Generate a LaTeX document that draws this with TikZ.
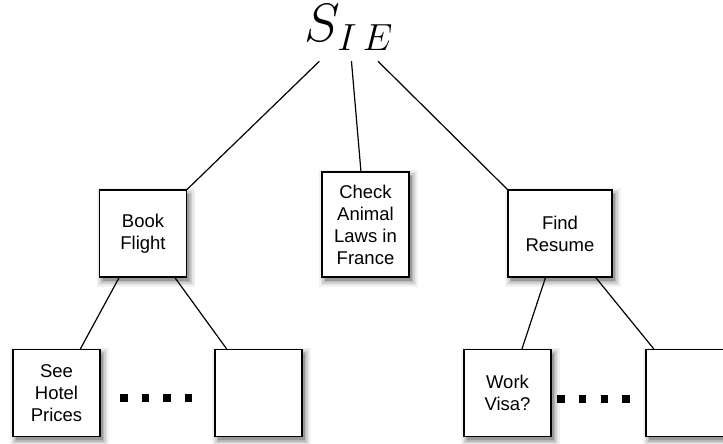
\RequirePackage{fix-cm}
\documentclass[tikz,border=0pt]{standalone}
\usepackage{amsmath}
\usepackage{fontspec}
\setsansfont{Liberation Sans}
\usepackage{tikz}
\usetikzlibrary{positioning,backgrounds}

\begin{document}
\begin{tikzpicture}[
    x=1pt, y=1pt,
    on grid,
    box/.style={rectangle, draw, fill=white, line width=1.2pt, minimum width=87pt, minimum height=87pt, inner sep=0pt, align=center, font=\sffamily\fontsize{18.5}{22}\selectfont},
    widebox/.style={box, minimum width=104pt},
    tallbox/.style={box, minimum height=105pt},
    rootnode/.style={inner sep=0pt, minimum width=90pt, text height=38pt, text depth=19pt, font=\fontsize{54}{60}\selectfont},
    dotsq/.style={rectangle, fill=black, minimum size=7.5pt, inner sep=0pt},
    link/.style={line width=1.2pt}
]
\useasboundingbox (0,0) rectangle (723,-444);

% Root
\node[rootnode] (root) at (349,-32.5) {$S_{I\mkern3mu E}$};

% Tasks
\node[box, below left=201pt and 206pt of root] (book) {Book\\Flight};
\node[tallbox, below right=192pt and 16.5pt of root] (check) {Check\\Animal\\Laws in\\France};
\node[widebox, below right=201pt and 211pt of root] (find) {Find\\Resume};

% Subtasks
\node[box, below left=159.5pt and 86.5pt of book] (hotel) {See\\Hotel\\Prices};
\node[box, below right=159.5pt and 115.5pt of book] (blankl) {};
\node[box, below left=159.5pt and 52.5pt of find] (visa) {Work\\Visa?};
\node[box, below right=159.5pt and 129.5pt of find] (blankr) {};

% Dots between subtasks
\foreach \i [evaluate=\i as \dx using 67.3+\i*21.5] in {0,...,3}
    \node[dotsq, right=\dx pt of hotel, yshift=-5pt] (dotl\i) {};
\foreach \i [evaluate=\i as \dx using 53.5+\i*21.7] in {0,...,3}
    \node[dotsq, right=\dx pt of visa, yshift=-6pt] (dotr\i) {};

% Soft shadows behind the boxes
\begin{scope}[on background layer]
    \foreach \n in {book,check,find,hotel,blankl,visa,blankr}
        \foreach \e/\tone in {5/5,3.5/10,2/18,0.5/28,-1/40}
            \fill[black!\tone] ([xshift=3pt-\e pt, yshift=-4pt-\e pt]\n.south west)
                rectangle ([xshift=3pt+\e pt, yshift=-4pt+\e pt]\n.north east);
\end{scope}

% Links
\draw[link] (root) -- (book.north east);
\draw[link] (root) -- (check);
\draw[link] (root) -- (find.north west);
\draw[link] (book) -- (hotel);
\draw[link] (book) -- (blankl);
\draw[link] (find) -- (visa);
\draw[link] (find) -- (blankr);

\end{tikzpicture}
\end{document}
